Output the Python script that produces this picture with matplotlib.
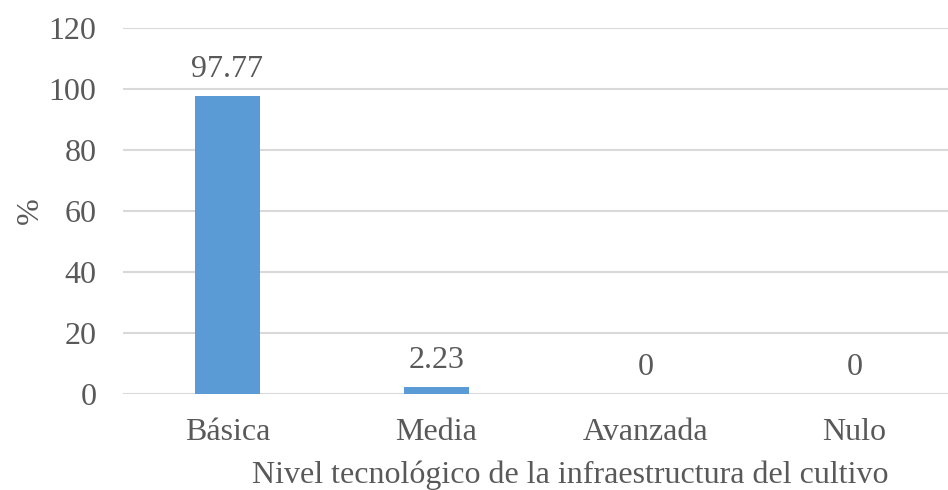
import matplotlib
matplotlib.use("Agg")
import matplotlib.pyplot as plt

categories = ["Básica", "Media", "Avanzada", "Nulo"]
values = [97.77, 2.23, 0, 0]
value_labels = ["97.77", "2.23", "0", "0"]
yticks = [0, 20, 40, 60, 80, 100, 120]

plt.rcParams["font.family"] = ["Liberation Serif", "DejaVu Serif"]
gray = "#595959"
fs = 23

fig = plt.figure(figsize=(9.48, 4.9), dpi=100)
ax = fig.add_axes([123 / 948, 1 - 394 / 490, 836 / 948, 366 / 490])

x = range(len(categories))
ax.bar(x, values, width=0.31, color="#5b9bd5", zorder=3)

for xi, v, lab in zip(x, values, value_labels):
    ax.annotate(lab, (xi, v), xytext=(0, 13.5), textcoords="offset points",
                ha="center", va="baseline", fontsize=fs, color=gray)

ax.set_xlim(-0.5, 3.5)
ax.set_ylim(0, 120)
ax.set_yticks(yticks)
ax.set_xticks(list(x))
ax.set_xticklabels(categories)
ax.tick_params(axis="both", length=0, labelsize=fs, labelcolor=gray)
ax.tick_params(axis="y", pad=19)
ax.tick_params(axis="x", pad=17)
ax.grid(axis="y", color="#d9d9d9", linewidth=1.5, zorder=0)
ax.grid(axis="x", visible=False)
for s in ax.spines.values():
    s.set_visible(False)

fig.text(570 / 948, 1 - 483 / 490, "Nivel tecnológico de la infraestructura del cultivo",
         ha="center", va="baseline", fontsize=fs, color=gray)
fig.text(30 / 948, 1 - 211 / 490, "%", rotation=90, ha="center", va="center",
         fontsize=fs, color=gray)

fig.savefig("out.png", dpi=100)
